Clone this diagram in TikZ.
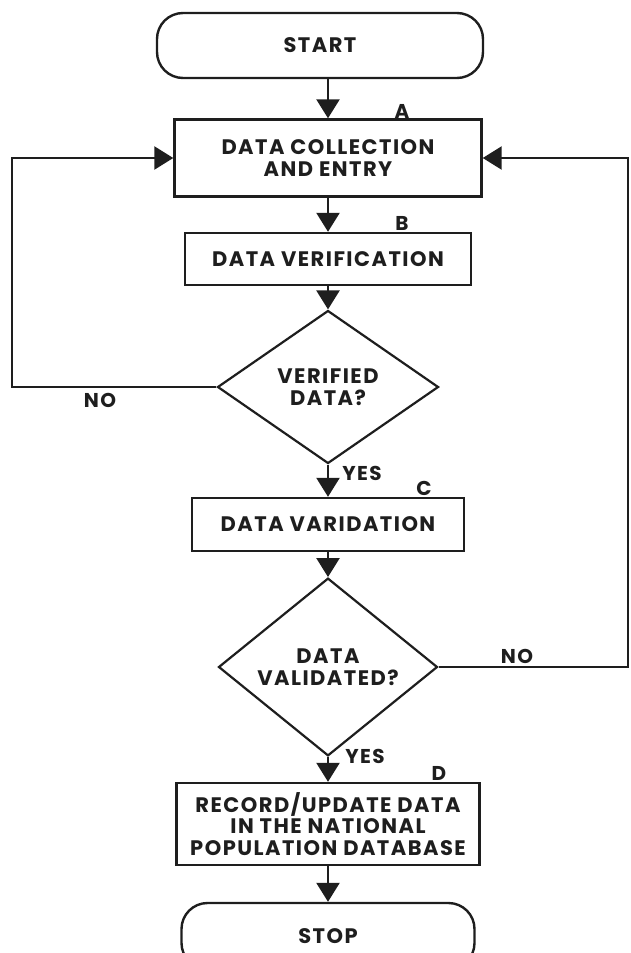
\documentclass[tikz,border=0pt]{standalone}
\usepackage{fontspec}
\setmainfont{Poppins}[LetterSpace=7]
\usetikzlibrary{shapes.geometric,arrows.meta}
\definecolor{ink}{HTML}{1E1E1E}
\begin{document}
\begin{tikzpicture}[x=1pt,y=-1pt,
  every node/.style={font=\fontsize{21}{21.5}\selectfont\bfseries, text=ink, align=center},
  box/.style={draw=ink, line width=2.4pt, rectangle, inner sep=0pt},
  term/.style={box, rounded corners=26pt},
  decision/.style={draw=ink, line width=2.2pt, diamond, inner sep=0pt},
  lbl/.style={font=\fontsize{20}{24}\selectfont\bfseries},
  flow/.style={draw=ink, line width=2.4pt, -{Triangle[width=23pt,length=19pt]}},
  line/.style={draw=ink, line width=2.4pt}]
\useasboundingbox (0,0) rectangle (630,953);
\node[term, minimum width=326pt, minimum height=65pt] (start) at (320,45.5) {START};
\node[box, minimum width=307pt, minimum height=77pt] (A) at (328,158) {DATA COLLECTION\\AND ENTRY};
\node[box, minimum width=286pt, minimum height=52pt] (B) at (328,259) {DATA VERIFICATION};
\node[decision, minimum width=221pt, minimum height=153pt] (d1) at (328,387) {VERIFIED\\DATA?};
\node[box, minimum width=272pt, minimum height=53pt] (C) at (328,524.5) {DATA VARIDATION};
\node[decision, minimum width=219pt, minimum height=153pt] (d2) at (328,667) {DATA\\VALIDATED?};
\node[box, minimum width=303pt, minimum height=82pt] (D) at (328,824) {RECORD/UPDATE DATA\\IN THE NATIONAL\\POPULATION DATABASE};
\node[term, minimum width=293pt, minimum height=66pt] (stop) at (328,936) {STOP};
\node[lbl] (la) at (402,111) {A};
\node[lbl] (lb) at (402,223) {B};
\node[lbl] (lc) at (424,488) {C};
\node[lbl] (ld) at (439,773) {D};
\node[lbl] (no1) at (100,400) {NO};
\node[lbl] (yes1) at (362,473) {YES};
\node[lbl] (no2) at (517,656) {NO};
\node[lbl] (yes2) at (365,756) {YES};
\coordinate (lft) at (12,387);
\coordinate (rgt) at (628,667);
\draw[flow] (start.south -| A.north) -- (A.north);
\draw[flow] (A.south) -- (B.north);
\draw[flow] (B.south) -- (d1.north);
\draw[flow] (d1.south) -- (C.north);
\draw[flow] (C.south) -- (d2.north);
\draw[flow] (d2.south) -- (D.north);
\draw[flow] (D.south) -- (stop.north);
\draw[flow] (d1.west) -- (lft) |- (A.west);
\draw[flow] (d2.east) -- (rgt) |- (A.east);
\end{tikzpicture}
\end{document}
